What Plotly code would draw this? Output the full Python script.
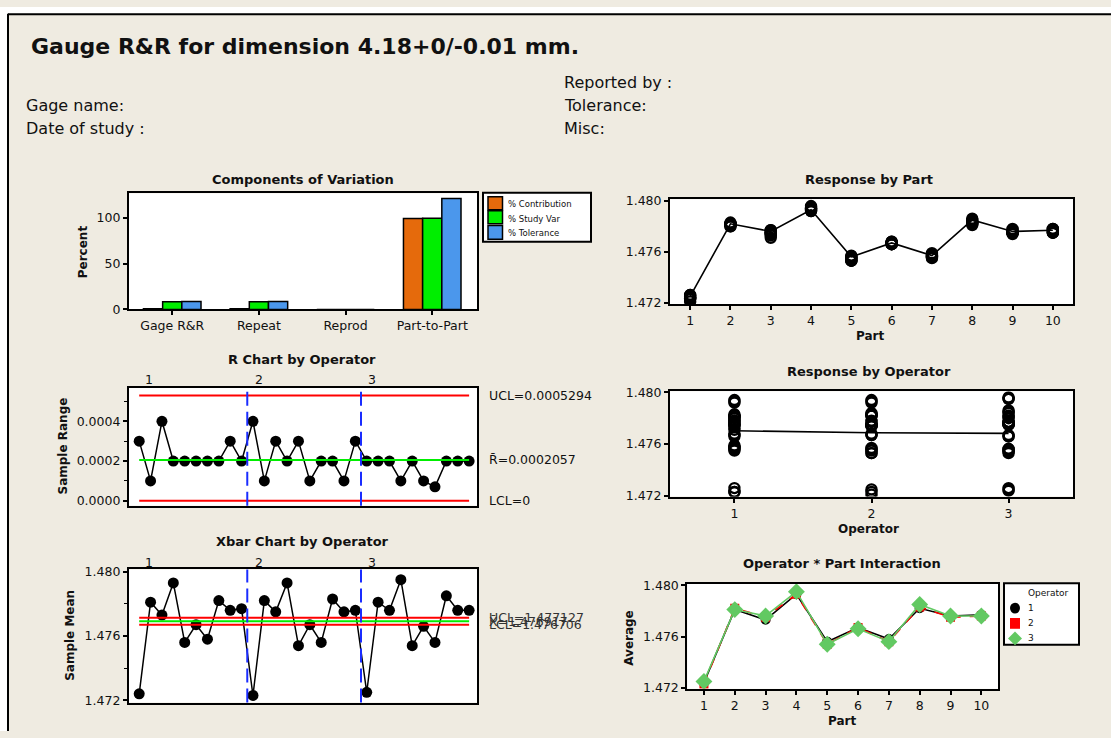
import plotly.graph_objects as go

W, H = 1111, 738
FONT = "DejaVu Sans"
BG = "#efebe1"
ORANGE = "#e56a0c"
GREEN = "#00ee00"
BLUE = "#4b97ec"
RED = "#ff0000"
LIME = "#00ee00"
SEP_BLUE = "#1a2cff"
OP_GREEN = "#62c962"
TXT = "#111111"

# ---------------- data ----------------
components = ["Gage R&R", "Repeat", "Reprod", "Part-to-Part"]
pct_contribution = [0.7, 0.7, 0.0, 99.3]
pct_study_var = [8.3, 8.3, 0.0, 99.7]
pct_tolerance = [8.6, 8.6, 0.0, 121.2]

parts = [1, 2, 3, 4, 5, 6, 7, 8, 9, 10]
operators = [1, 2, 3]

# sample means (Xbar) per operator, parts 1..10
xbar_op1 = [1.4724, 1.4781, 1.4773, 1.4793, 1.4756, 1.4767, 1.4758, 1.4782, 1.4776, 1.4777]
xbar_op2 = [1.4723, 1.4782, 1.4775, 1.4793, 1.4754, 1.4767, 1.4756, 1.4783, 1.4775, 1.4776]
xbar_op3 = [1.4725, 1.4781, 1.4776, 1.4795, 1.4754, 1.4766, 1.4756, 1.4785, 1.4776, 1.4776]

# sample ranges per operator, parts 1..10
range_op1 = [0.0003, 0.0001, 0.0004, 0.0002, 0.0002, 0.0002, 0.0002, 0.0002, 0.0003, 0.0002]
range_op2 = [0.0004, 0.0001, 0.0003, 0.0002, 0.0003, 0.0001, 0.0002, 0.0002, 0.0001, 0.0003]
range_op3 = [0.0002, 0.0002, 0.0002, 0.0001, 0.0002, 0.0001, 0.00007, 0.0002, 0.0002, 0.0002]

r_ucl, r_center, r_lcl = 0.0005294, 0.0002057, 0.0
x_ucl, x_center, x_lcl = 1.477127, 1.476917, 1.476706

# individual measurements (3 trials) per operator, parts 1..10
op1_t1 = [1.4723, 1.4781, 1.4771, 1.4792, 1.4757, 1.4766, 1.4759, 1.4781, 1.4775, 1.4778]
op1_t2 = [1.4726, 1.4781, 1.4775, 1.4794, 1.4755, 1.4768, 1.4757, 1.4783, 1.4778, 1.4776]
op1_t3 = [1.4723, 1.4780, 1.4773, 1.4793, 1.4756, 1.4767, 1.4758, 1.4782, 1.4775, 1.4777]
op2_t1 = [1.4721, 1.4782, 1.4774, 1.4794, 1.4753, 1.4767, 1.4755, 1.4784, 1.4775, 1.4775]
op2_t2 = [1.4725, 1.4783, 1.4777, 1.4792, 1.4756, 1.4768, 1.4757, 1.4782, 1.4774, 1.4778]
op2_t3 = [1.4723, 1.4782, 1.4774, 1.4793, 1.4753, 1.4767, 1.4756, 1.4783, 1.4775, 1.4775]
op3_t1 = [1.4724, 1.4782, 1.4775, 1.4795, 1.4753, 1.4766, 1.47557, 1.4784, 1.4777, 1.4775]
op3_t2 = [1.4726, 1.4780, 1.4777, 1.4796, 1.4755, 1.4767, 1.47564, 1.4786, 1.4775, 1.4777]
op3_t3 = [1.4725, 1.4781, 1.4776, 1.4795, 1.4754, 1.4766, 1.47560, 1.4785, 1.4776, 1.4776]

part_means = [1.4725, 1.4782, 1.4776, 1.4793, 1.4756, 1.4767, 1.4757, 1.4785, 1.4776, 1.4777]
operator_means = [1.47703, 1.47688, 1.47683]

comp_ticks = [0, 50, 100]
r_ticks = [0.0, 0.0002, 0.0004]
resp_ticks = [1.472, 1.476, 1.480]
operator_label_pos = [1.9, 11.5, 21.5]

# ---------------- helpers ----------------
def fx(p):
    return p / W


def fy(p):
    return 1 - p / H


def xdom(a, b):
    return [a / W, b / W]


def ydom(top, bottom):
    return [1 - bottom / H, 1 - top / H]


def axis(**kw):
    d = dict(showline=True, linecolor="black", linewidth=2, mirror=True,
             ticks="outside", ticklen=4, tickwidth=1.5, tickcolor="black",
             showgrid=False, zeroline=False,
             tickfont=dict(family=FONT, size=12.5, color=TXT))
    d.update(kw)
    return d


fig = go.Figure()

# ---- Components of Variation ----
for name, vals, col in [("% Contribution", pct_contribution, ORANGE),
                        ("% Study Var", pct_study_var, GREEN),
                        ("% Tolerance", pct_tolerance, BLUE)]:
    fig.add_trace(go.Bar(x=components, y=vals, name=name,
                         marker=dict(color=col, line=dict(color="black", width=1.5)),
                         xaxis="x", yaxis="y", showlegend=False))

# ---- Response by Part ----
all_trials = [op1_t1, op1_t2, op1_t3, op2_t1, op2_t2, op2_t3, op3_t1, op3_t2, op3_t3]
rp_x, rp_y = [], []
for t in all_trials:
    rp_x += parts
    rp_y += t
fig.add_trace(go.Scatter(x=parts, y=part_means, mode="lines",
                         line=dict(color="black", width=1.6),
                         xaxis="x2", yaxis="y2", showlegend=False))
fig.add_trace(go.Scatter(x=rp_x, y=rp_y, mode="markers",
                         marker=dict(symbol="circle-open", size=10, color="black",
                                     line=dict(width=2.4, color="black")),
                         xaxis="x2", yaxis="y2", showlegend=False))

# ---- R chart ----
r_all = range_op1 + range_op2 + range_op3
samples = list(range(1, len(r_all) + 1))
fig.add_trace(go.Scatter(x=samples, y=r_all, mode="lines+markers",
                         line=dict(color="black", width=1.5),
                         marker=dict(size=11, color="black"),
                         xaxis="x3", yaxis="y3", showlegend=False))

# ---- Response by Operator ----
ro_x, ro_y = [], []
for op, trials in zip(operators, [[op1_t1, op1_t2, op1_t3],
                                  [op2_t1, op2_t2, op2_t3],
                                  [op3_t1, op3_t2, op3_t3]]):
    for t in trials:
        ro_x += [op] * len(t)
        ro_y += t
fig.add_trace(go.Scatter(x=operators, y=operator_means, mode="lines",
                         line=dict(color="black", width=1.6),
                         xaxis="x4", yaxis="y4", showlegend=False))
fig.add_trace(go.Scatter(x=ro_x, y=ro_y, mode="markers",
                         marker=dict(symbol="circle-open", size=10, color="black",
                                     line=dict(width=2.4, color="black")),
                         xaxis="x4", yaxis="y4", showlegend=False))

# ---- Xbar chart ----
x_all = xbar_op1 + xbar_op2 + xbar_op3
fig.add_trace(go.Scatter(x=samples, y=x_all, mode="lines+markers",
                         line=dict(color="black", width=1.5),
                         marker=dict(size=11, color="black"),
                         xaxis="x5", yaxis="y5", showlegend=False))

# ---- Interaction ----
for vals, col, sym, size, dash in [(xbar_op1, "black", "circle", 10, "solid"),
                                   (xbar_op2, RED, "square", 9, "dash"),
                                   (xbar_op3, OP_GREEN, "diamond", 13, "solid")]:
    fig.add_trace(go.Scatter(x=parts, y=vals, mode="lines+markers",
                             line=dict(color=col, width=1.6, dash=dash),
                             marker=dict(symbol=sym, size=size, color=col),
                             xaxis="x6", yaxis="y6", showlegend=False))

# ---------------- layout ----------------
LX = (128.9, 477.3)
RX = (670, 1073)
layout = dict(
    width=W, height=H, margin=dict(l=0, r=0, t=0, b=0),
    paper_bgcolor=BG, plot_bgcolor="white",
    barmode="group", bargap=0.336, bargroupgap=0,
    font=dict(family=FONT, color=TXT),
    xaxis=axis(domain=xdom(*LX), anchor="y", range=[-0.5, 3.52], type="category"),
    yaxis=axis(domain=ydom(190, 308.3), anchor="x", range=[0, 126.8],
               tickvals=comp_ticks),
    xaxis2=axis(domain=xdom(*RX), anchor="y2", range=[0.5, 10.5], tickvals=parts),
    yaxis2=axis(domain=ydom(196, 302.7), anchor="x2", range=[1.4719, 1.48013],
                tickvals=resp_ticks, tickformat=".3f"),
    xaxis3=axis(domain=xdom(*LX), anchor="y3", range=[0.095, 30.72],
                showticklabels=False, ticks=""),
    yaxis3=axis(domain=ydom(388.3, 508.3), anchor="x3", range=[-0.0000247, 0.000568],
                tickvals=r_ticks, tickformat=".4f",
                minor=dict(ticks="outside", ticklen=2.5, tickwidth=1, tickcolor="black",
                           tick0=0.0001, dtick=0.0002)),
    xaxis4=axis(domain=xdom(*RX), anchor="y4", range=[0.53, 3.47], tickvals=operators),
    yaxis4=axis(domain=ydom(391.7, 499), anchor="x4", range=[1.47195, 1.48008],
                tickvals=resp_ticks, tickformat=".3f"),
    xaxis5=axis(domain=xdom(*LX), anchor="y5", range=[0.095, 30.72],
                showticklabels=False, ticks=""),
    yaxis5=axis(domain=ydom(573.3, 709), anchor="x5", range=[1.47186, 1.48014],
                tickvals=resp_ticks, tickformat=".3f",
                minor=dict(ticks="outside", ticklen=2.5, tickwidth=1, tickcolor="black",
                           tick0=1.474, dtick=0.004)),
    xaxis6=axis(domain=xdom(687.3, 998.3), anchor="y6", range=[0.46, 10.55], tickvals=parts),
    yaxis6=axis(domain=ydom(587.7, 695), anchor="x6", range=[1.47192, 1.48013],
                tickvals=resp_ticks, tickformat=".3f"),
)
fig.update_layout(**layout)

shapes = []
ann = []


def text(x, y, s, size=12.5, bold=False, anchor="center", angle=0, xref="paper", yref="paper",
         color=TXT):
    ann.append(dict(x=x, y=y, xref=xref, yref=yref, text=("<b>%s</b>" % s) if bold else s,
                    showarrow=False, xanchor=anchor, yanchor="middle", textangle=angle,
                    font=dict(family=FONT, size=size, color=color)))


# page frame (white outside, black border)
shapes.append(dict(type="rect", xref="paper", yref="paper", x0=0, x1=fx(8), y0=0, y1=1,
                   fillcolor="white", line=dict(width=0), layer="below"))
shapes.append(dict(type="rect", xref="paper", yref="paper", x0=0, x1=1, y0=fy(7), y1=1,
                   fillcolor="white", line=dict(width=0), layer="below"))
shapes.append(dict(type="line", xref="paper", yref="paper", x0=fx(8), x1=1, y0=fy(7.5), y1=fy(7.5),
                   line=dict(color="black", width=2)))
shapes.append(dict(type="line", xref="paper", yref="paper", x0=fx(8), x1=fx(8), y0=fy(7), y1=0,
                   line=dict(color="black", width=2)))

# header
text(fx(29), fy(40), "Gauge R&R for dimension 4.18+0/-0.01 mm.", size=22, bold=True, anchor="left")
text(fx(24), fy(100), "Gage name:", size=16, anchor="left")
text(fx(24), fy(124), "Date of study :", size=16, anchor="left")
text(fx(562), fy(77), "Reported by :", size=16, anchor="left")
text(fx(562), fy(100), "Tolerance:", size=16, anchor="left")
text(fx(562), fy(124), "Misc:", size=16, anchor="left")

# panel titles
text(fx(303), fy(176), "Components of Variation", size=13, bold=True)
text(fx(869), fy(176), "Response by Part", size=13, bold=True)
text(fx(302), fy(359), "R Chart by Operator", size=13, bold=True)
text(fx(869), fy(372), "Response by Operator", size=13, bold=True)
text(fx(302), fy(545), "Xbar Chart by Operator", size=13, bold=True)
text(fx(842), fy(567), "Operator * Part Interaction", size=13, bold=True)

# axis titles
text(fx(83), fy(250), "Percent", size=12, bold=True, angle=-90)
text(fx(63), fy(448), "Sample Range", size=12, bold=True, angle=-90)
text(fx(70), fy(641), "Sample Mean", size=12, bold=True, angle=-90)
text(fx(629), fy(643), "Average", size=12, bold=True, angle=-90)
text(fx(870), fy(335), "Part", size=12, bold=True)
text(fx(868), fy(532), "Operator", size=12, bold=True)
text(fx(842), fy(728), "Part", size=12, bold=True)

# control lines, separators, labels for R and Xbar charts
for xa, ya, lines, top_y in [("x3", "y3", [(r_ucl, RED), (r_center, LIME), (r_lcl, RED)], 380),
                             ("x5", "y5", [(x_ucl, RED), (x_center, LIME), (x_lcl, RED)], 566)]:
    for val, col in lines:
        shapes.append(dict(type="line", xref=xa, yref=ya, x0=samples[0], x1=samples[-1],
                           y0=val, y1=val, line=dict(color=col, width=2)))
    for sep in [10.5, 20.5]:
        shapes.append(dict(type="line", xref=xa, yref=ya + " domain", x0=sep, x1=sep,
                           y0=0, y1=1, line=dict(color=SEP_BLUE, width=2, dash="14px,6px")))
    for pos, op in zip(operator_label_pos, operators):
        text(pos, fy(top_y), str(op), size=12.5, xref=xa)

text(fx(487), r_ucl, "UCL=%.7f" % r_ucl, size=12.5, anchor="left", yref="y3")
text(fx(487), r_center, "R\u0304=%.7f" % r_center, size=12.5, anchor="left", yref="y3")
text(fx(487), r_lcl, "LCL=0", size=12.5, anchor="left", yref="y3")
text(fx(487), x_ucl, "UCL=%.6f" % x_ucl, size=12.5, anchor="left", yref="y5", color="#333333")
text(fx(487), x_center, "X\u0304=%.6f" % x_center, size=12.5, anchor="left", yref="y5", color="#333333")
text(fx(487), x_lcl, "LCL=%.6f" % x_lcl, size=12.5, anchor="left", yref="y5", color="#333333")

# legend: components
shapes.append(dict(type="rect", xref="paper", yref="paper", x0=fx(483), x1=fx(591),
                   y0=fy(239.3), y1=fy(189.3), fillcolor="white", line=dict(color="black", width=2)))
for (t, b, ty), name, col in zip([(193.3, 206.7, 201.2), (207.7, 221.0, 215.6), (222.7, 236.7, 230.2)],
                                 ["% Contribution", "% Study Var", "% Tolerance"],
                                 [ORANGE, GREEN, BLUE]):
    shapes.append(dict(type="rect", xref="paper", yref="paper", x0=fx(488), x1=fx(502.5),
                       y0=fy(b), y1=fy(t), fillcolor=col, line=dict(color="black", width=1.5)))
    text(fx(506), fy(ty), name, size=8.5, anchor="left")

# legend: interaction
shapes.append(dict(type="rect", xref="paper", yref="paper", x0=fx(1004), x1=fx(1079),
                   y0=fy(650), y1=fy(587.3), fillcolor="white", line=dict(color="black", width=2)))
text(fx(1048), fy(597.7), "Operator", size=9)
cx = 1015
shapes.append(dict(type="circle", xref="paper", yref="paper", x0=fx(cx - 5), x1=fx(cx + 5),
                   y0=fy(612.7 + 5.5), y1=fy(612.7 - 5.5), fillcolor="black", line=dict(width=0)))
shapes.append(dict(type="rect", xref="paper", yref="paper", x0=fx(cx - 5), x1=fx(cx + 5),
                   y0=fy(628.3 + 5.5), y1=fy(628.3 - 5.5), fillcolor=RED, line=dict(width=0)))
dy = 643.7
shapes.append(dict(type="path", xref="paper", yref="paper",
                   path="M %f,%f L %f,%f L %f,%f L %f,%f Z" % (
                       fx(cx), fy(dy - 7), fx(cx + 7), fy(dy), fx(cx), fy(dy + 7), fx(cx - 7), fy(dy)),
                   fillcolor=OP_GREEN, line=dict(width=0)))
for yy, op in zip([612.7, 628.3, 643.7], operators):
    text(fx(1026), fy(yy), str(op), size=9, anchor="left")

fig.update_layout(shapes=shapes, annotations=ann)

fig.write_html("out.html",
               config={"displayModeBar": False},
               post_script="document.body.style.margin='0';document.body.style.overflow='hidden';")
